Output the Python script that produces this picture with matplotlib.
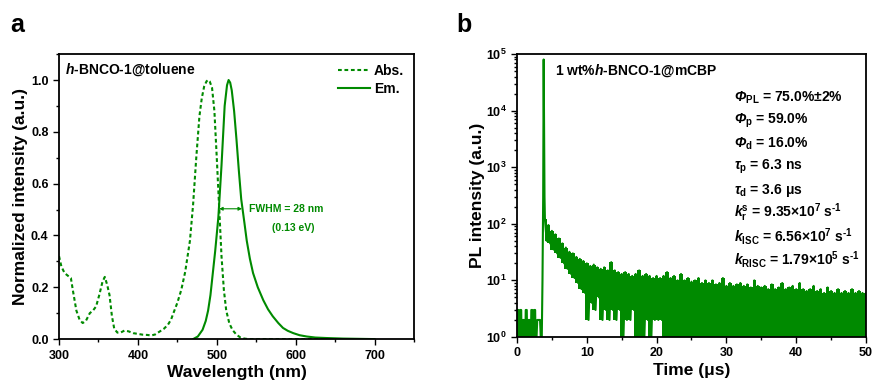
import numpy as np
import matplotlib
matplotlib.use("Agg")
import matplotlib.pyplot as plt
from matplotlib.ticker import MultipleLocator

# ---- panel a: steady-state spectra (toluene) ----
abs_wl = [300, 303, 307, 311, 315, 318, 322, 326, 330, 334, 339, 343, 347, 351,
          355, 358, 361, 364, 367, 370, 374, 378, 383, 388, 394, 400, 406, 412,
          417, 422, 428, 433, 438, 442, 445, 450, 455, 460, 466, 470, 474, 478,
          481, 484, 487, 489, 491, 494, 497, 500, 503, 506, 509, 512, 516, 520,
          525, 530, 535, 540, 560, 600, 650, 700]
abs_val = [0.32, 0.28, 0.255, 0.245, 0.236, 0.18, 0.11, 0.075, 0.062, 0.07, 0.10,
           0.11, 0.126, 0.17, 0.22, 0.24, 0.21, 0.17, 0.09, 0.04, 0.025, 0.025,
           0.033, 0.03, 0.023, 0.02, 0.017, 0.016, 0.014, 0.018, 0.03, 0.04,
           0.055, 0.075, 0.10, 0.14, 0.19, 0.26, 0.38, 0.52, 0.70, 0.86, 0.93,
           0.975, 0.995, 1.0, 0.995, 0.97, 0.88, 0.70, 0.51, 0.32, 0.19, 0.11,
           0.06, 0.035, 0.017, 0.006, 0.002, 0.0, 0.0, 0.0, 0.0, 0.0]

em_wl = [470, 476, 482, 486, 489, 492, 495, 498, 502, 506, 510, 513, 515, 517,
         519, 522, 525, 528, 531, 535, 538, 542, 546, 552, 559, 565, 571, 578,
         584, 590, 597, 605, 614, 625, 640, 660, 680, 700]
em_val = [0.0, 0.01, 0.036, 0.07, 0.11, 0.17, 0.255, 0.34, 0.47, 0.67, 0.9, 0.98,
          1.0, 0.99, 0.96, 0.88, 0.77, 0.65, 0.54, 0.45, 0.38, 0.31, 0.255, 0.20,
          0.15, 0.115, 0.088, 0.062, 0.043, 0.032, 0.023, 0.015, 0.01, 0.006,
          0.004, 0.002, 0.001, 0.0]

# ---- panel b: transient PL decay (mCBP film) ----
pre_t = [0.0, 0.05, 0.2, 0.25, 0.4, 0.45, 0.6, 0.65, 0.8, 0.85, 1.0, 1.05, 1.2,
         1.25, 1.4, 1.45, 1.6, 1.65, 1.8, 1.85, 2.0, 2.05, 2.2, 2.25, 2.4, 2.45,
         2.6, 2.65, 2.8, 2.9, 3.3, 3.4, 3.55, 3.65, 3.75, 3.82, 3.88, 3.94, 4.0]
pre_cnt = [1, 3, 3, 1, 1, 3, 3, 1, 1, 2, 2, 1, 1, 3, 3, 1, 1, 2, 2, 1, 1, 3, 3,
           1, 1, 3, 3, 1, 1, 2, 2, 1, 1, 10, 300, 80000, 5000, 300, 120]

decay_t = np.arange(4.0, 50.01, 0.5)
decay_hi = [120, 95, 75, 65, 55, 45, 38, 32, 30, 26, 24, 22, 20, 18, 19, 17, 16,
            17, 15, 21, 15, 14, 13, 14, 13, 12, 13, 15, 12, 13, 12, 11, 12, 11,
            12, 14, 11, 12, 10, 13, 10, 11, 9.5, 10, 11, 9, 10, 9, 10, 8.5, 9,
            11, 8, 9, 8, 8.5, 9, 8, 8.5, 7.5, 10, 8, 7.5, 8, 7, 8.5, 7, 7.5, 9,
            7, 7.5, 8, 7, 9, 7, 6.5, 7, 8, 6.5, 7, 6, 7.5, 6.5, 6, 7, 6, 6.5, 6,
            7, 6, 6.5, 6, 6]
decay_lo = [50, 45, 35, 30, 25, 20, 16, 13, 11, 9, 7, 6, 2, 4, 3, 5, 2, 3, 2, 3,
            2, 3, 1, 2, 2, 3, 1, 1, 1, 2, 1, 2, 2, 2, 1, 1, 1, 1, 1, 1, 1, 1, 1,
            1, 1, 1, 1, 1, 1, 1, 1, 1, 1, 1, 1, 1, 1, 1, 1, 1, 1, 1, 1, 1, 1, 1,
            1, 1, 1, 1, 1, 1, 1, 1, 1, 1, 1, 1, 1, 1, 1, 1, 1, 1, 1, 1, 1, 1, 1,
            1, 1, 1, 1]

params = [r"$\mathbfit{\Phi}_{\mathrm{PL}}$ = 75.0%±2%",
          r"$\mathbfit{\Phi}_{\mathrm{p}}$ = 59.0%",
          r"$\mathbfit{\Phi}_{\mathrm{d}}$ = 16.0%",
          r"$\mathbfit{\tau}_{\mathrm{p}}$ = 6.3 ns",
          r"$\mathbfit{\tau}_{\mathrm{d}}$ = 3.6 μs",
          r"$\mathbfit{k}_{\mathrm{r}}^{\mathrm{s}}$ = 9.35×10$^{7}$ s$^{\text{-1}}$",
          r"$\mathbfit{k}_{\mathrm{ISC}}$ = 6.56×10$^{7}$ s$^{\text{-1}}$",
          r"$\mathbfit{k}_{\mathrm{RISC}}$ = 1.79×10$^{5}$ s$^{\text{-1}}$"]

green = "#008a00"

plt.rcParams["font.family"] = ["Liberation Sans", "DejaVu Sans"]
plt.rcParams["font.weight"] = "bold"
plt.rcParams["axes.labelweight"] = "bold"
plt.rcParams["mathtext.fontset"] = "custom"
plt.rcParams["mathtext.rm"] = "Liberation Sans:bold"
plt.rcParams["mathtext.it"] = "Liberation Sans:bold:italic"
plt.rcParams["mathtext.bf"] = "Liberation Sans:bold"
plt.rcParams["mathtext.bfit"] = "Liberation Sans:bold:italic"

fig = plt.figure(figsize=(8.72, 3.81), dpi=100)
ax1 = fig.add_axes([0.0677, 0.110, 0.407, 0.748])
ax2 = fig.add_axes([0.5929, 0.1155, 0.4002, 0.7428])


def style_axes(ax):
    for sp in ax.spines.values():
        sp.set_linewidth(1.3)
    ax.tick_params(which="both", direction="out", width=1.0, labelsize=9,
                   top=False, right=False)
    ax.tick_params(which="major", length=4)
    ax.tick_params(which="minor", length=2.5)


# panel a
ax1.plot(abs_wl, abs_val, color=green, lw=1.5, ls=(0, (1.8, 1.3)), label="Abs.")
ax1.plot(em_wl, em_val, color=green, lw=1.5, label="Em.")
ax1.set_xlim(300, 750)
ax1.set_ylim(0, 1.1)
ax1.xaxis.set_minor_locator(MultipleLocator(50))
ax1.yaxis.set_major_locator(MultipleLocator(0.2))
ax1.yaxis.set_minor_locator(MultipleLocator(0.1))
ax1.set_xticks([300, 400, 500, 600, 700])
style_axes(ax1)
ax1.set_xlabel("Wavelength (nm)", fontsize=12.5)
ax1.set_ylabel("Normalized intensity (a.u.)", fontsize=12.5)
ax1.xaxis.set_label_coords(0.5, -0.092)
ax1.yaxis.set_label_coords(-0.088, 0.5)
ax1.legend(loc="upper right", frameon=False, fontsize=10, handlelength=2.3,
           handletextpad=0.3, borderaxespad=0.3, labelspacing=0.3)
ax1.text(0.017, 0.944, r"$\mathit{h}$-BNCO-1@toluene", transform=ax1.transAxes,
         fontsize=10, va="center", ha="left")
ax1.annotate("", xy=(503, 0.503), xytext=(532, 0.503),
             arrowprops=dict(arrowstyle="<|-|>", color=green, lw=0.8,
                             mutation_scale=5, shrinkA=0, shrinkB=0))
ax1.text(541, 0.503, "FWHM = 28 nm", color=green, fontsize=7.5, va="center",
         ha="left")
ax1.text(597, 0.43, "(0.13 eV)", color=green, fontsize=7.5, va="center",
         ha="center")

# panel b
ax2.plot(pre_t, pre_cnt, color=green, lw=1.5)
ax2.fill_between(decay_t, decay_lo, decay_hi, step="mid", color=green, lw=0)
zx = np.empty(2 * len(decay_t))
zy = np.empty(2 * len(decay_t))
zx[0::2] = decay_t
zx[1::2] = decay_t + 0.25
zy[0::2] = decay_hi
zy[1::2] = decay_lo
ax2.plot(zx, zy, color=green, lw=1.5)
ax2.set_yscale("log")
ax2.set_xlim(0, 50)
ax2.set_ylim(1, 1e5)
ax2.xaxis.set_major_locator(MultipleLocator(10))
ax2.xaxis.set_minor_locator(MultipleLocator(5))
style_axes(ax2)
ax2.set_xlabel("Time (μs)", fontsize=12.5)
ax2.set_ylabel("PL intensity (a.u.)", fontsize=12.5)
ax2.xaxis.set_label_coords(0.5, -0.092)
ax2.yaxis.set_label_coords(-0.092, 0.5)
ax2.text(0.109, 0.94, r"$\mathit{1}$ wt%$\mathit{h}$-BNCO-1@mCBP",
         transform=ax2.transAxes, fontsize=10, va="center", ha="left")
for i, s in enumerate(params):
    ax2.text(0.622, 0.845 - i * 0.0815, s, transform=ax2.transAxes, fontsize=10,
             va="center", ha="left")

fig.text(0.012, 0.935, "a", fontsize=18, fontweight="bold", va="center")
fig.text(0.523, 0.935, "b", fontsize=18, fontweight="bold", va="center")

fig.savefig("out.png", dpi=100)
